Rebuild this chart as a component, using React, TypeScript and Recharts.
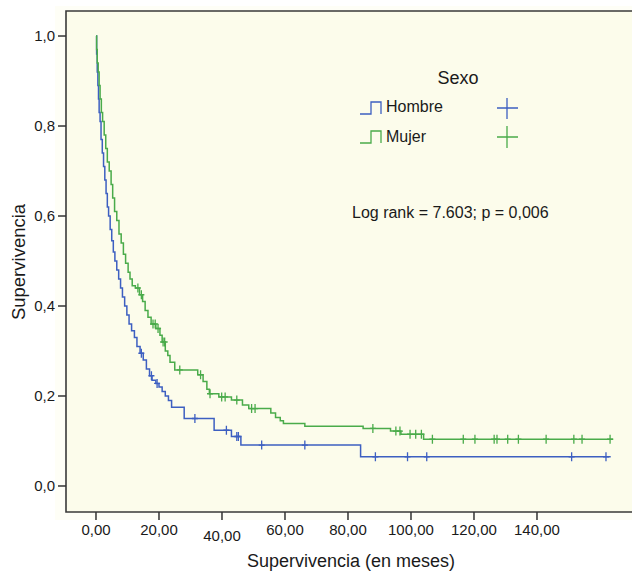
import React from "react";
import { ComposedChart, Line, Scatter, XAxis, YAxis, ReferenceArea } from "recharts";

// Kaplan-Meier steps (months, survival)
const hombreTimes = [0, 0.2, 0.4, 0.6, 0.8, 1.0, 1.3, 1.6, 2.0, 2.4, 2.8, 3.2, 3.6, 4.0, 4.5, 5.0, 5.5, 6.0, 6.6, 7.2, 7.8, 8.4, 9.1, 9.8, 10.5, 11.3, 12.2, 13.0, 14.0, 15.0, 16.0, 17.0, 17.8, 19.0, 20.0, 21.0, 22.0, 23.0, 24.0, 28.0, 37.5, 43.0, 46.0, 84.0, 163.4];
const hombreSurv = [1.0, 0.96, 0.92, 0.89, 0.86, 0.83, 0.81, 0.77, 0.74, 0.71, 0.68, 0.65, 0.62, 0.6, 0.57, 0.545, 0.52, 0.5, 0.48, 0.46, 0.44, 0.42, 0.4, 0.38, 0.36, 0.345, 0.33, 0.31, 0.295, 0.28, 0.26, 0.245, 0.235, 0.228, 0.22, 0.21, 0.2, 0.19, 0.175, 0.15, 0.124, 0.11, 0.091, 0.065, 0.065];
const hombreCensored = [14.4, 17.6, 19.4, 31.4, 41.4, 44.7, 45.2, 52.6, 66.3, 88.7, 98.9, 105.0, 151.0, 161.9];

const mujerTimes = [0, 0.2, 0.4, 0.7, 1.0, 1.3, 1.7, 2.1, 2.6, 3.1, 3.6, 4.2, 4.8, 5.3, 5.9, 6.6, 7.3, 8.0, 8.7, 9.4, 10.2, 10.8, 11.5, 12.5, 13.8, 14.8, 15.6, 16.5, 17.5, 19.0, 20.3, 21.0, 22.0, 22.8, 23.5, 25.0, 32.3, 34.0, 35.2, 36.0, 39.0, 43.0, 46.5, 48.5, 55.5, 57.0, 58.5, 59.5, 66.3, 84.8, 93.5, 96.8, 104.0, 164.2];
const mujerSurv = [1.0, 0.97, 0.94, 0.92, 0.89, 0.86, 0.83, 0.81, 0.78, 0.75, 0.72, 0.7, 0.67, 0.64, 0.61, 0.59, 0.56, 0.54, 0.515, 0.495, 0.475, 0.46, 0.445, 0.44, 0.425, 0.41, 0.39, 0.375, 0.36, 0.35, 0.335, 0.32, 0.3, 0.29, 0.275, 0.258, 0.247, 0.232, 0.215, 0.205, 0.198, 0.191, 0.18, 0.172, 0.162, 0.152, 0.145, 0.139, 0.133, 0.128, 0.122, 0.115, 0.104, 0.104];
const mujerCensored = [13.3, 14.4, 18.1, 18.8, 19.7, 21.3, 21.8, 26.6, 33.2, 36.2, 39.9, 41.0, 44.7, 49.4, 50.5, 87.9, 95.2, 96.5, 99.7, 101.5, 103.3, 106.8, 116.6, 120.3, 126.4, 127.3, 130.7, 134.1, 142.9, 151.7, 154.3, 163.2];

const xTicks = [0, 20, 40, 60, 80, 100, 120, 140];
const yTicks = [0, 0.2, 0.4, 0.6, 0.8, 1.0];

const X_MIN = -9.52;
const X_MAX = 179.05;
const Y_MIN = -0.0578;
const Y_MAX = 1.0556;

const BLUE = "#3d5fc1";
const GREEN = "#4aab4a";
const FONT = "'Liberation Sans', Arial, Helvetica, sans-serif";

const toSteps = (times: number[], surv: number[]) =>
  times.map((t, i) => ({ t, s: surv[i] }));

// survival value of the curve at a censored time
const toCensor = (times: number[], surv: number[], cens: number[]) =>
  cens.map((c) => {
    let s = surv[0];
    times.forEach((t, i) => {
      if (t <= c) s = surv[i];
    });
    return { t: c, s };
  });

const plusShape = (color: string) => (props: any) => {
  const { cx, cy } = props;
  return (
    <path
      d={`M${cx - 3},${cy}H${cx + 3}M${cx},${cy - 4.5}V${cy + 4.5}`}
      stroke={color}
      strokeWidth={1.3}
      fill="none"
    />
  );
};

const XTick = (props: any) => {
  const { x, payload } = props;
  const dy = payload.value === 40 ? 541 : 535;
  return (
    <text x={x} y={dy} textAnchor="middle" fontSize={15} fontFamily={FONT} fill="#1a1a1a">
      {payload.value.toFixed(2).replace(".", ",")}
    </text>
  );
};

export default function App() {
  const hombre = toSteps(hombreTimes, hombreSurv);
  const mujer = toSteps(mujerTimes, mujerSurv);
  const hombreC = toCensor(hombreTimes, hombreSurv, hombreCensored);
  const mujerC = toCensor(mujerTimes, mujerSurv, mujerCensored);

  return (
    <div style={{ position: "absolute", left: 0, top: 0, width: 632, height: 572, overflow: "hidden", background: "#fff" }}>
      <div style={{ position: "absolute", left: 55, top: 6, width: 600, height: 514, background: "#fefef6" }} />
      <div style={{ position: "absolute", left: 0, top: 0 }}>
        <ComposedChart width={680} height={572} margin={{ top: 11, right: 20, bottom: 0, left: 0 }}>
          <XAxis
            type="number"
            dataKey="t"
            domain={[X_MIN, X_MAX]}
            ticks={xTicks}
            allowDataOverflow
            height={60}
            tickSize={8}
            axisLine={false}
            tickLine={{ stroke: "#333", strokeWidth: 1.5 }}
            tick={<XTick />}
          />
          <YAxis
            type="number"
            dataKey="s"
            domain={[Y_MIN, Y_MAX]}
            ticks={yTicks}
            allowDataOverflow
            width={66}
            tickSize={8}
            tickMargin={3}
            axisLine={false}
            tickLine={{ stroke: "#333", strokeWidth: 1.5 }}
            tick={{ fontSize: 15, fontFamily: FONT, fill: "#1a1a1a" }}
            tickFormatter={(v: number) => v.toFixed(1).replace(".", ",")}
          />
          <ReferenceArea
            x1={X_MIN}
            x2={X_MAX}
            y1={Y_MIN}
            y2={Y_MAX}
            fill="#fcfceb"
            fillOpacity={1}
            stroke="#3a3a3a"
            strokeWidth={1.6}
            ifOverflow="visible"
          />
          <Line data={hombre} dataKey="s" type="stepAfter" stroke={BLUE} strokeWidth={1.5} dot={false} isAnimationActive={false} />
          <Line data={mujer} dataKey="s" type="stepAfter" stroke={GREEN} strokeWidth={1.5} dot={false} isAnimationActive={false} />
          <Scatter data={hombreC} dataKey="s" shape={plusShape(BLUE)} isAnimationActive={false} />
          <Scatter data={mujerC} dataKey="s" shape={plusShape(GREEN)} isAnimationActive={false} />
        </ComposedChart>
      </div>
      <svg width={632} height={572} style={{ position: "absolute", left: 0, top: 0, pointerEvents: "none" }} fontFamily={FONT}>
        <text x={0} y={0} transform="translate(25,262) rotate(-90)" textAnchor="middle" fontSize={18.5} fill="#1a1a1a">
          Supervivencia
        </text>
        <text x={351} y={567} textAnchor="middle" fontSize={18} fill="#1a1a1a">
          Supervivencia (en meses)
        </text>
        <text x={458} y={84} textAnchor="middle" fontSize={18} fill="#1a1a1a">
          Sexo
        </text>
        <path d="M360,114H371V102H381V114" stroke={BLUE} strokeWidth={1.3} fill="none" />
        <text x={386} y={112} fontSize={16} fill="#1a1a1a">
          Hombre
        </text>
        <path d="M497,108H518M507,98V119" stroke={BLUE} strokeWidth={1.3} fill="none" />
        <path d="M360,143H371V131H381V143" stroke={GREEN} strokeWidth={1.3} fill="none" />
        <text x={386} y={142} fontSize={16} fill="#1a1a1a">
          Mujer
        </text>
        <path d="M497,137H518M507,126V148" stroke={GREEN} strokeWidth={1.3} fill="none" />
        <text x={352} y={218} fontSize={16} fill="#1a1a1a">
          Log rank = 7.603; p = 0,006
        </text>
      </svg>
    </div>
  );
}
